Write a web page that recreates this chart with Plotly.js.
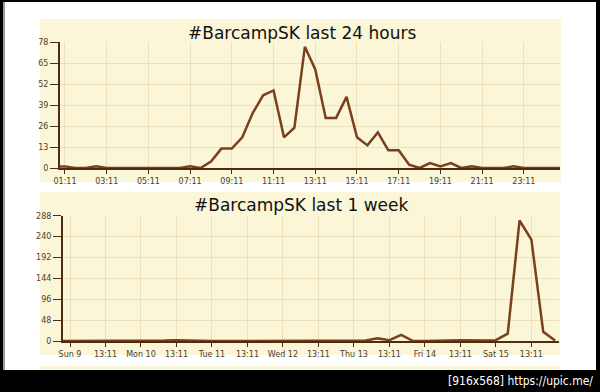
<!DOCTYPE html>
<html>
<head>
<meta charset="utf-8">
<script src="https://cdn.plot.ly/plotly-3.0.1.min.js"></script>
<style>html,body{margin:0;padding:0;background:#000;}#chart{width:600px;height:392px;}</style>
</head>
<body>
<div id="chart"></div>
<script>
// ---- data: last 24 hours (30-minute bins, starting 2012-09-15 00:41) ----
var dayStart = '2012-09-15T00:41:00';
var dayStepMin = 30;
var dayValues = [1, 1, 0, 0, 1, 0, 0, 0, 0, 0, 0, 0, 0, 1, 0, 4, 12, 12, 19, 34, 45, 48, 19, 25,
                 75, 61, 31, 31, 44, 19, 14, 22, 11, 11, 2, 0, 3, 1, 3, 0, 1, 0, 0, 0, 1, 0, 0, 0, 0, 0];
var dayTicks = ['01:11','03:11','05:11','07:11','09:11','11:11','13:11','15:11','17:11','19:11','21:11','23:11'];
var dayYTicks = [0, 13, 26, 39, 52, 65, 78];

// ---- data: last 1 week (4-hour bins, starting 2012-09-08 21:11) ----
var weekStart = '2012-09-08T21:11:00';
var weekStepMin = 240;
var weekValues = [0,
  0, 0, 0, 0, 0, 0,        // Sun 9
  0, 0, 1, 2, 1, 0,        // Mon 10
  0, 0, 0, 0, 0, 0,        // Tue 11
  0, 0, 0, 0, 0, 0,        // Wed 12
  0, 1, 6, 2, 14, 0,       // Thu 13
  0, 0, 1, 2, 1, 1,        // Fri 14
  2, 17, 277, 233, 21, 1   // Sat 15
];
var weekTickText = ['Sun 9','13:11','Mon 10','13:11','Tue 11','13:11','Wed 12','13:11',
                    'Thu 13','13:11','Fri 14','13:11','Sat 15','13:11'];
var weekTickDays = ['2012-09-09','2012-09-10','2012-09-11','2012-09-12','2012-09-13','2012-09-14','2012-09-15'];
var weekYTicks = [0, 48, 96, 144, 192, 240, 288];

var titleTop = '#BarcampSK last 24 hours';
var titleBottom = '#BarcampSK last 1 week';
var watermark = '[916x568] https://upic.me/';

// ---- helpers ----
function pad(n){return (n<10?'0':'')+n;}
function fmt(d){return d.getUTCFullYear()+'-'+pad(d.getUTCMonth()+1)+'-'+pad(d.getUTCDate())+' '+pad(d.getUTCHours())+':'+pad(d.getUTCMinutes());}
function times(start, stepMin, n){
  var t0 = new Date(start+'Z').getTime(), out=[];
  for (var i=0;i<n;i++) out.push(fmt(new Date(t0+i*stepMin*60000)));
  return out;
}
var dayX = times(dayStart, dayStepMin, dayValues.length);
var weekX = times(weekStart, weekStepMin, weekValues.length);
var dayTickVals = dayTicks.map(function(t){return '2012-09-15 '+t;});
var weekTickVals = [];
weekTickDays.forEach(function(d){weekTickVals.push(d+' 01:11'); weekTickVals.push(d+' 13:11');});

var W=600, H=392;
function px(x){return x/W;}
function py(y){return 1-y/H;}
function rect(x0,y0,x1,y1,color){
  return {type:'rect',xref:'paper',yref:'paper',x0:px(x0),x1:px(x1),y0:py(y1),y1:py(y0),
          fillcolor:color,line:{width:0},layer:'below'};
}

var BEIGE = '#faf6d7';
var GRID = '#ece2ba';
var AXIS = '#4e2c12';
var LINE = '#7a3f1c';
var TICKFONT = {family:'DejaVu Sans, Verdana, sans-serif', size:8, color:'#4a4030'};

var common = {
  showline:true, linecolor:AXIS, linewidth:2, ticks:'outside', tickcolor:AXIS, tickwidth:1,
  showgrid:true, gridcolor:GRID, gridwidth:1, zeroline:false, tickfont:TICKFONT, fixedrange:true
};
function ax(extra){var o={}; for (var k in common) o[k]=common[k]; for (var k2 in extra) o[k2]=extra[k2]; return o;}

var traces = [
  {x:dayX, y:dayValues, type:'scatter', mode:'lines', line:{color:LINE,width:2.5}, xaxis:'x', yaxis:'y', hoverinfo:'skip'},
  {x:weekX, y:weekValues, type:'scatter', mode:'lines', line:{color:LINE,width:2.5}, xaxis:'x2', yaxis:'y2', hoverinfo:'skip'}
];

var layout = {
  width:W, height:H, margin:{l:0,r:0,t:0,b:0},
  paper_bgcolor:'#000000', plot_bgcolor:BEIGE, showlegend:false,
  xaxis: ax({type:'date', domain:[px(60),px(560)], anchor:'y',
             range:['2012-09-15 00:56:40','2012-09-16 00:55'],
             tickmode:'array', tickvals:dayTickVals, ticktext:dayTicks, ticklen:4}),
  yaxis: ax({domain:[py(168),py(42)], anchor:'x', range:[0,78],
             tickmode:'array', tickvals:dayYTicks, ticklen:8}),
  xaxis2: ax({type:'date', domain:[px(63),px(559)], anchor:'y2',
             range:['2012-09-08 22:49','2012-09-15 22:31'],
             tickmode:'array', tickvals:weekTickVals, ticktext:weekTickText, ticklen:4}),
  yaxis2: ax({domain:[py(341),py(215.7)], anchor:'x2', range:[0,288],
             tickmode:'array', tickvals:weekYTicks, ticklen:8}),
  shapes: [
    rect(3,2,596,370,'#9a9a9a'),
    rect(5,2,596,370,'#ffffff'),
    rect(40,19,561,182,BEIGE),
    rect(40,192,560,355,BEIGE),
    rect(40,366,560,370,BEIGE)
  ],
  annotations: [
    {text:titleTop, xref:'paper', yref:'paper', x:px(302), y:py(33), xanchor:'center', yanchor:'middle',
     showarrow:false, font:{family:'DejaVu Sans, Verdana, sans-serif', size:17, color:'#111111'}},
    {text:titleBottom, xref:'paper', yref:'paper', x:px(301), y:py(205), xanchor:'center', yanchor:'middle',
     showarrow:false, font:{family:'DejaVu Sans, Verdana, sans-serif', size:17, color:'#111111'}},
    {text:watermark, xref:'paper', yref:'paper', x:px(595), y:py(381), xanchor:'right', yanchor:'middle',
     showarrow:false, font:{family:'DejaVu Sans Condensed, DejaVu Sans, sans-serif', size:12, color:'#ffffff'}}
  ]
};

Plotly.newPlot('chart', traces, layout, {displayModeBar:false, staticPlot:true});
</script>
</body>
</html>
